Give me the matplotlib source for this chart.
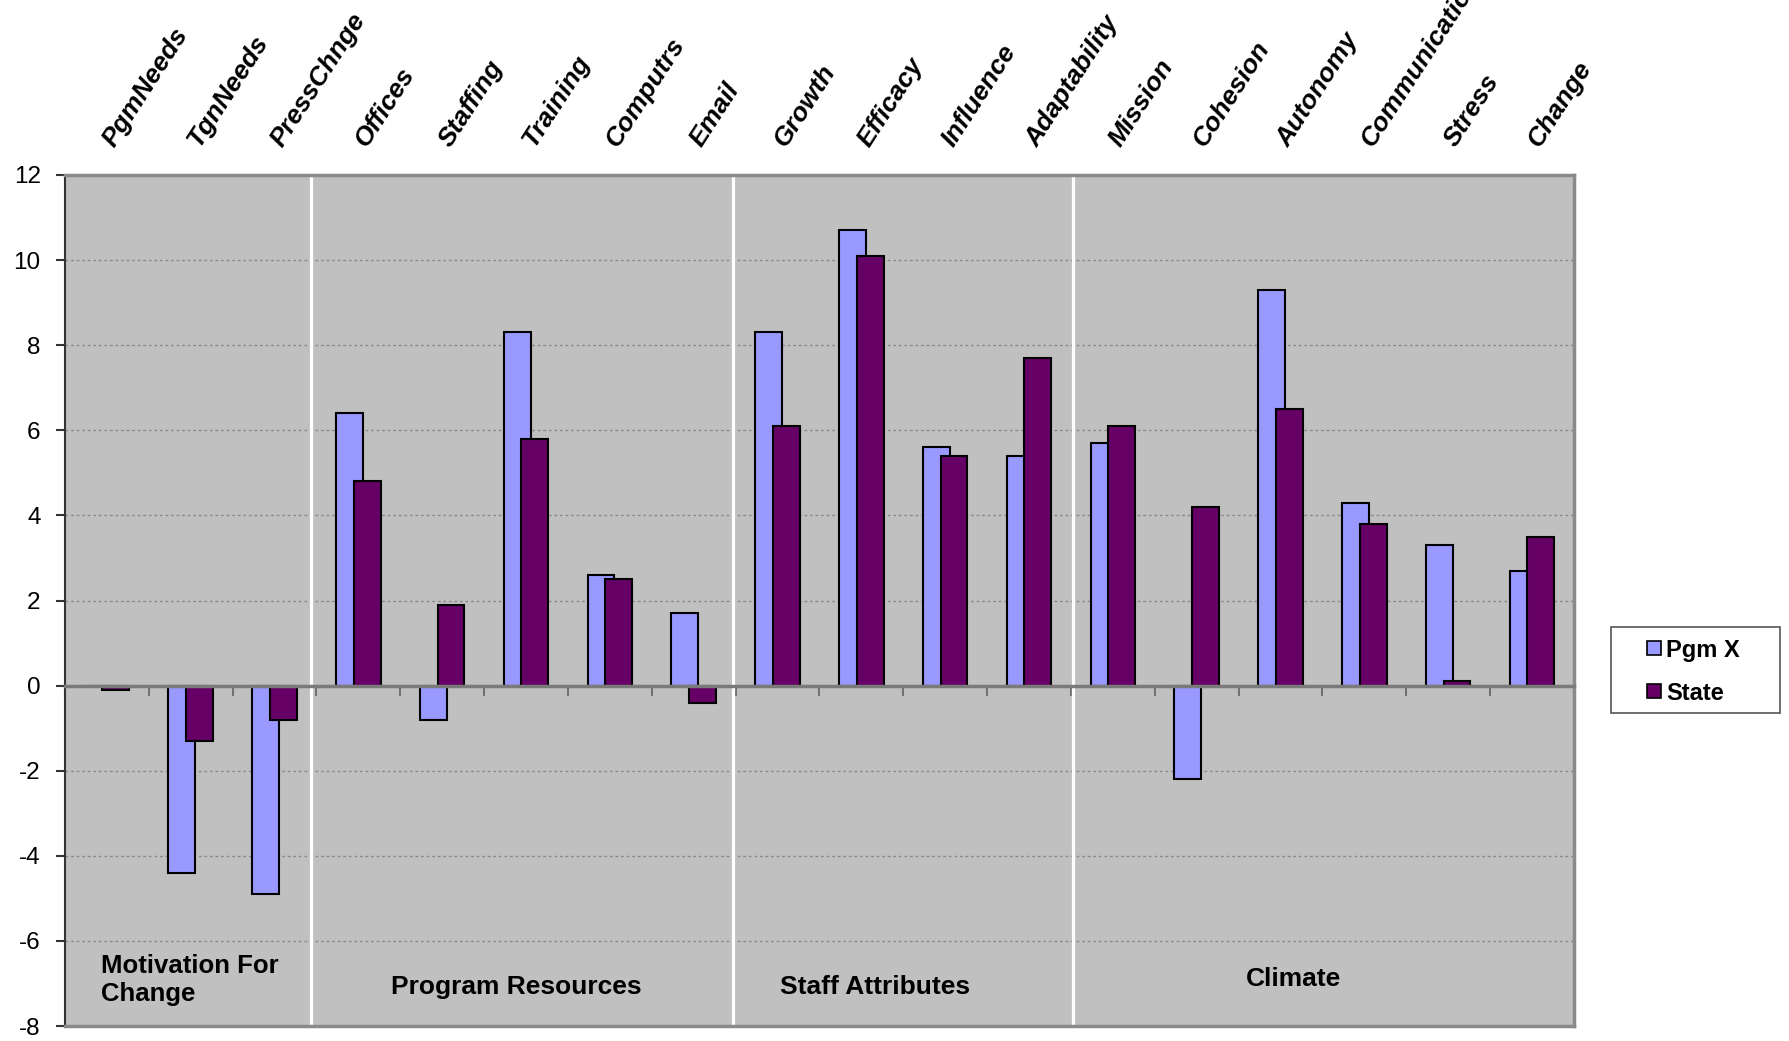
import matplotlib
matplotlib.use("Agg")
import matplotlib.pyplot as plt
import numpy as np
from matplotlib.lines import Line2D
from matplotlib.patches import Rectangle
from matplotlib.transforms import blended_transform_factory, offset_copy

plt.rcParams['font.family'] = ['Liberation Sans', 'DejaVu Sans']

categories = ["PgmNeeds", "TgnNeeds", "PressChnge", "Offices", "Staffing", "Training",
              "Computrs", "Email", "Growth", "Efficacy", "Influence", "Adaptability",
              "Mission", "Cohesion", "Autonomy", "Communication", "Stress", "Change"]
pgm_x = [0.0, -4.4, -4.9, 6.4, -0.8, 8.3, 2.6, 1.7, 8.3, 10.7, 5.6, 5.4,
         5.7, -2.2, 9.3, 4.3, 3.3, 2.7]
state = [-0.1, -1.3, -0.8, 4.8, 1.9, 5.8, 2.5, -0.4, 6.1, 10.1, 5.4, 7.7,
         6.1, 4.2, 6.5, 3.8, 0.1, 3.5]
groups = ["Motivation For\nChange", "Program Resources", "Staff Attributes", "Climate"]
group_sizes = [3, 5, 4, 6]
series_names = ["Pgm X", "State"]
yticks = [-8, -6, -4, -2, 0, 2, 4, 6, 8, 10, 12]

c_pgm = "#9999FF"
c_state = "#660066"

fig = plt.figure(figsize=(17.89, 10.41), dpi=100)
ax = fig.add_axes([0.0363, 0.0144, 0.8435, 0.8175])
ax.set_facecolor("#C0C0C0")

n = len(categories)
x = np.arange(n) + 0.5
w = 0.32
off = 0.105
ax.bar(x - off, pgm_x, width=w, color=c_pgm, edgecolor="black", linewidth=1.5, zorder=3)
ax.bar(x + off, state, width=w, color=c_state, edgecolor="black", linewidth=1.5, zorder=4)

ax.set_xlim(0, n)
ax.set_ylim(-8, 12)

# grid
for yv in yticks:
    if yv not in (0, -8, 12):
        ax.axhline(yv, color="#8a8a8a", lw=1.0, ls=(0, (2, 2)), zorder=1)

# spines
ax.spines['bottom'].set_position(('data', 0))
ax.spines['bottom'].set_color("#7a7a7a")
ax.spines['bottom'].set_linewidth(2.5)
ax.spines['bottom'].set_zorder(5)
ax.spines['top'].set_color("#8a8a8a")
ax.spines['top'].set_linewidth(2.5)
ax.spines['right'].set_color("#8a8a8a")
ax.spines['right'].set_linewidth(2.5)
ax.spines['left'].set_color("#333333")
ax.spines['left'].set_linewidth(1.5)
ax.axhline(-8, color="#8a8a8a", lw=2.5, zorder=5, clip_on=False)

ax.set_xticks(np.arange(0, n + 1))
ax.set_xticklabels([])
ax.tick_params(axis='x', direction='out', length=7, width=1.3, color="#6a6a6a")
ax.set_yticks(yticks)
ax.set_yticklabels([str(v) for v in yticks], fontsize=17.5)
ax.tick_params(axis='y', direction='out', length=6.5, width=1.5, color="#333333", pad=11)

# group separators
bounds = np.cumsum(group_sizes)[:-1]
sep_adj = [-0.07, -0.03, 0.02]
for b, a in zip(bounds, sep_adj):
    ax.axvline(b + a, ymin=-0.016, ymax=1.014, color="white", lw=2.3, zorder=2, clip_on=False)

# category labels
trans = blended_transform_factory(ax.transData, ax.transAxes)
for xi, lab in zip(x, categories):
    ax.text(xi, 1.0, lab, transform=offset_copy(trans, fig=fig, x=2, y=31, units='dots'),
            rotation=57, rotation_mode='anchor', ha='left', va='center',
            fontsize=19, fontweight='bold', fontstyle='italic', clip_on=False)

# group labels
starts = np.concatenate([[0], bounds])
ax.text(starts[0] + 0.43, -6.92, groups[0], fontsize=18.5, fontweight='bold',
        ha='left', va='center', linespacing=1.25, zorder=6)
ax.text(5.39, -7.08, groups[1], fontsize=19, fontweight='bold', ha='center', va='center', zorder=6)
ax.text(9.66, -7.08, groups[2], fontsize=19, fontweight='bold', ha='center', va='center', zorder=6)
ax.text(14.65, -6.9, groups[3], fontsize=19, fontweight='bold', ha='center', va='center', zorder=6)

# legend
fig.patches.append(Rectangle((0.9005, 0.3151), 0.0945, 0.0826, transform=fig.transFigure,
                             facecolor='white', edgecolor='#555555', lw=1.2, zorder=0))
handles = [Line2D([], [], marker='s', ls='none', markersize=10, markerfacecolor=c_pgm,
                  markeredgecolor='black', markeredgewidth=1.2),
           Line2D([], [], marker='s', ls='none', markersize=10, markerfacecolor=c_state,
                  markeredgecolor='black', markeredgewidth=1.2)]
leg = fig.legend(handles, series_names, loc='upper left', bbox_to_anchor=(0.9206, 0.3866),
                 prop={'size': 17, 'weight': 'bold'}, frameon=False,
                 handlelength=0.6, handletextpad=0.2,
                 borderpad=0, labelspacing=0.85, borderaxespad=0)

fig.savefig("out.png", dpi=100)
